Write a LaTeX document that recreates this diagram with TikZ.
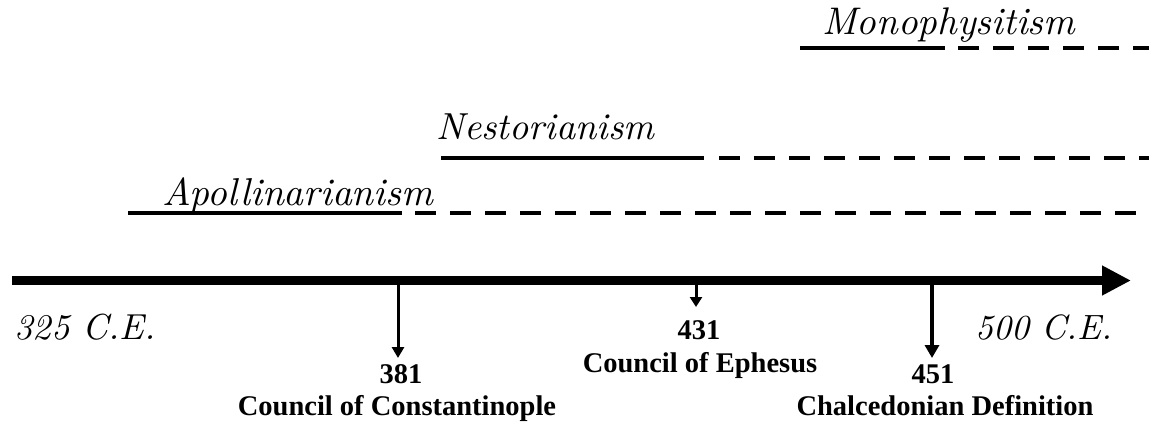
\documentclass[tikz,border=0pt]{standalone}
\usepackage{fontspec}
\usepackage{graphicx}
\newfontfamily\tnr{Liberation Serif}
\usetikzlibrary{arrows.meta}
\newcommand\hw[2]{\resizebox{#1}{!}{\itshape #2}}
\begin{document}
\begin{tikzpicture}[x=1pt,y=-1pt,
  bold/.style={font=\tnr\bfseries\fontsize{28.5}{30}\selectfont, inner sep=0pt, anchor=base},
  hand/.style={inner sep=0pt, anchor=base west},
  solidline/.style={line width=4pt},
  dashline/.style={line width=4pt, dash pattern=on 21pt off 14pt},
  tick/.style={line width=3pt, -{Triangle[length=11pt,width=12pt]}}
]
\useasboundingbox (0,0) rectangle (1149,424);
% timeline
\coordinate (tl0) at (12,280.5);
\coordinate (tl1) at (1131,280.5);
\draw[line width=9pt, -{Triangle[length=29pt,width=28pt]}] (tl0) -- (tl1);
\node[hand] (t325) at (14,339) {\hw{141pt}{325 C.E.}};
\node[hand] (t500) at (975,339) {\hw{137pt}{500 C.E.}};
% heresies
\node[hand] (apo) at (162,205) {\hw{271pt}{Apollinarianism}};
\coordinate (apoA) at (128,213);
\coordinate (apoB) at (402,213);
\coordinate (apoC) at (1149,213);
\draw[solidline] (apoA) -- (apoB);
\draw[dashline] ([xshift=13pt]apoB) -- (apoC);
\node[hand] (nes) at (436,139) {\hw{218pt}{Nestorianism}};
\coordinate (nesA) at (441,158);
\coordinate (nesB) at (704,158);
\coordinate (nesC) at (1149,158);
\draw[solidline] (nesA) -- (nesB);
\draw[dashline] ([xshift=15pt]nesB) -- (nesC);
\node[hand] (mon) at (822,34) {\hw{253pt}{Monophysitism}};
\coordinate (monA) at (800,48);
\coordinate (monB) at (945,48);
\coordinate (monC) at (1149,48);
\draw[solidline] (monA) -- (monB);
\draw[dashline] ([xshift=13pt]monB) -- (monC);
% events
\node[bold] (y381) at (401,383) {381};
\node[bold] (c381) at (397,415) {Council of Constantinople};
\node[bold] (y431) at (699,339) {431};
\node[bold] (c431) at (700,372) {Council of Ephesus};
\node[bold] (y451) at (933,383) {451};
\node[bold] (c451) at (945,415) {Chalcedonian Definition};
\coordinate (a381) at (398,284);
\coordinate (b381) at (398,358);
\coordinate (a431) at (696,284);
\coordinate (b431) at (696,307);
\coordinate (a451) at (932,284);
\coordinate (b451) at (932,358);
\draw[tick] (a381) -- (b381);
\draw[tick, -{Triangle[length=10pt,width=12pt]}] (a431) -- (b431);
\draw[tick, line width=3.5pt, -{Triangle[length=13pt,width=14pt]}] (a451) -- (b451);
\end{tikzpicture}
\end{document}
